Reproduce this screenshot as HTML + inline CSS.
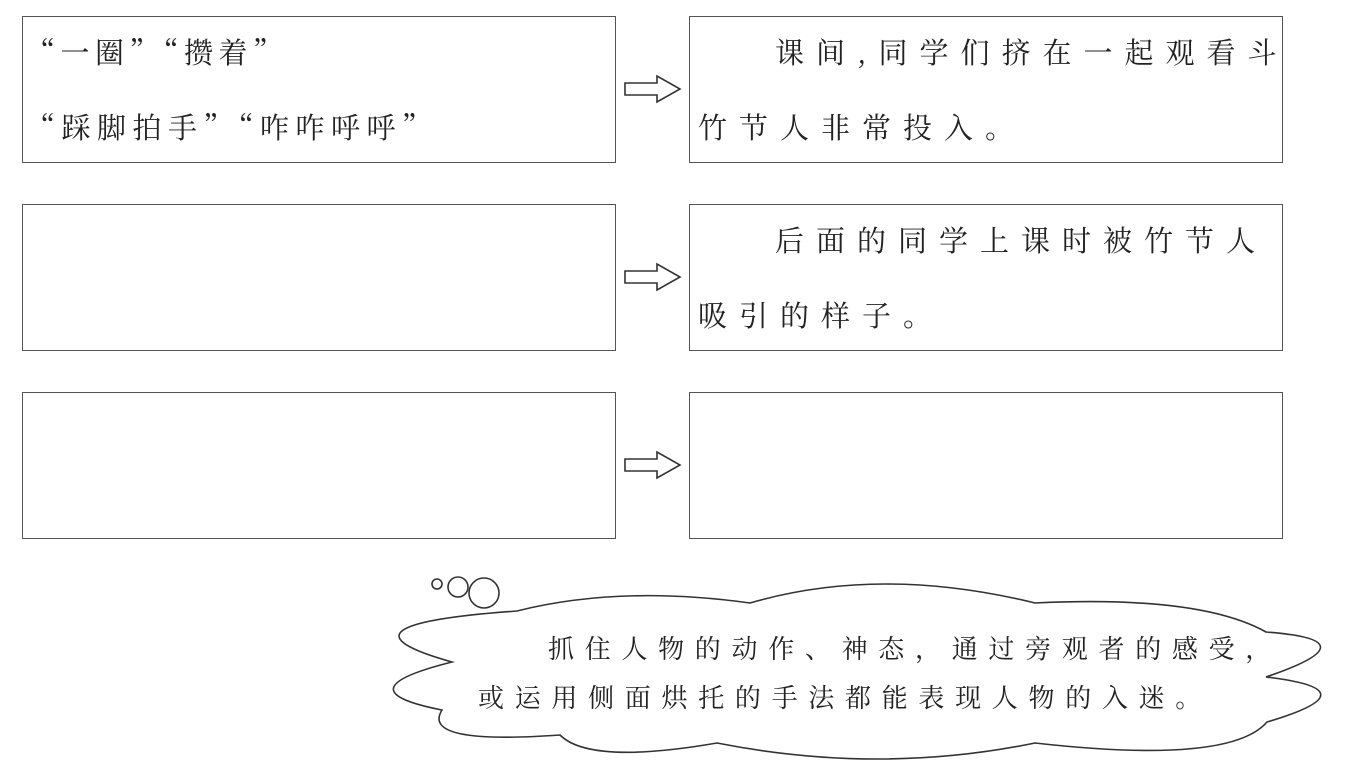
<!DOCTYPE html>
<html><head><meta charset="utf-8"><style>
body{margin:0;width:1359px;height:780px;background:#fff;position:relative;overflow:hidden;font-family:"Noto Serif CJK SC","Noto Sans CJK SC",serif;color:#222}
.b{position:absolute;border:1.5px solid #555;box-sizing:border-box;width:594px;height:147px}
.t{position:absolute;font-size:29px;white-space:nowrap;line-height:30px}
</style></head><body>
<div class="b" style="left:22px;top:16px"></div>
<div class="b" style="left:689px;top:16px"></div>
<div class="b" style="left:22px;top:204px"></div>
<div class="b" style="left:689px;top:204px"></div>
<div class="b" style="left:22px;top:392px"></div>
<div class="b" style="left:689px;top:392px"></div>
<div class="t" style="left:26px;top:37px;letter-spacing:5.5px">“一圈”“攒着”</div>
<div class="t" style="left:26px;top:112px;letter-spacing:6.5px">“踩脚拍手”“咋咋呼呼”</div>
<div class="t" style="left:775px;top:37px;letter-spacing:12px">课间,同学们挤在一起观看斗</div>
<div class="t" style="left:698px;top:112px;letter-spacing:12px">竹节人非常投入。</div>
<div class="t" style="left:775px;top:225px;letter-spacing:12px">后面的同学上课时被竹节人</div>
<div class="t" style="left:698px;top:300px;letter-spacing:12px">吸引的样子。</div>
<svg width="1359" height="780" style="position:absolute;left:0;top:0" fill="none" stroke="#333" stroke-width="1.6">
<path d="M625 83 H657 V76 L680 89 L657 102 V95 H625 Z"/>
<path d="M625 271 H657 V264 L680 277 L657 290 V283 H625 Z"/>
<path d="M625 459 H657 V452 L680 465 L657 478 V471 H625 Z"/>
<circle cx="437" cy="584" r="5"/><circle cx="458" cy="587" r="10"/><circle cx="484" cy="593" r="15"/>
<path d="M517 611 Q620 585 750 603 Q880 565 1035 603 Q1200 595 1266 632 Q1375 640 1266 677 Q1375 690 1267 722 Q1230 765 1035 743 Q880 775 717 743 Q590 765 560 735 Q420 745 442 710 Q340 690 452 662 Q320 625 517 611 Z"/>
</svg>
<div class="t" style="left:548px;top:633px;font-size:26px;letter-spacing:10.7px">抓住人物的动作、神态，通过旁观者的感受，</div>
<div class="t" style="left:478px;top:682px;font-size:26px;letter-spacing:10.7px">或运用侧面烘托的手法都能表现人物的入迷。</div>
</body></html>
